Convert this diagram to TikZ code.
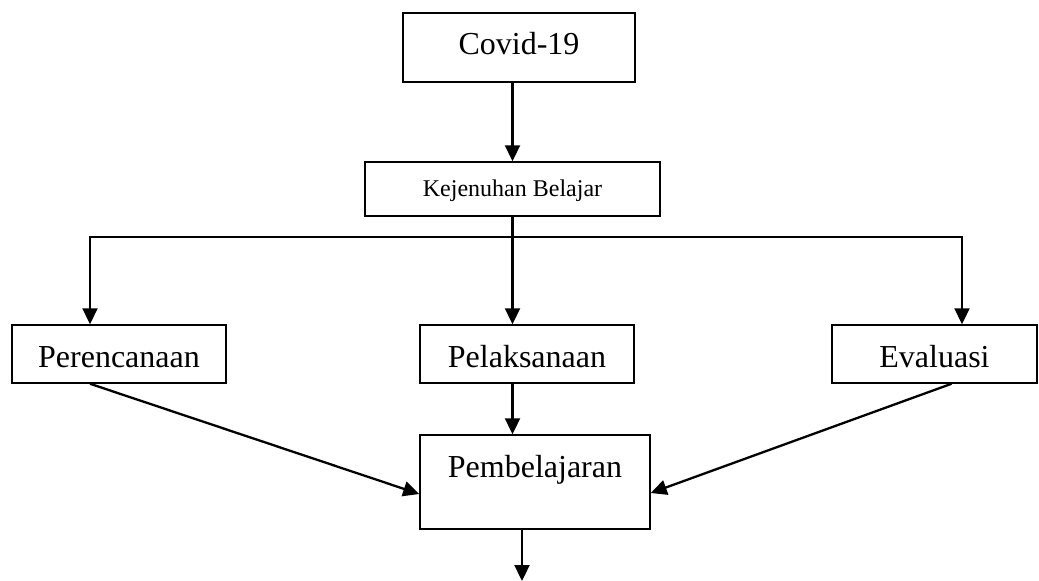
\documentclass[tikz,border=0pt]{standalone}
\usepackage{fontspec}
\setmainfont{Liberation Serif}
\usetikzlibrary{arrows.meta}

\tikzset{
  box/.style={draw, line width=1.5pt, inner sep=0pt, font=\fontsize{32}{36}\selectfont},
  conn/.style={line width=2.3pt, -{Triangle[length=16pt,width=15pt]}},
}

\begin{document}
\begin{tikzpicture}[x=1pt,y=-1pt]
\useasboundingbox (0,0) rectangle (1039,581);
\node[box, minimum width=232pt, text height=41pt, text depth=28pt] (covid) at (519,47.5) {Covid-19};
\node[box, minimum width=295pt, text height=34pt, text depth=20pt, font=\fontsize{24}{28}\selectfont] (jenuh) at (512.5,189) {Kejenuhan Belajar};
\node[box, minimum width=214pt, text height=42pt, text depth=16pt] (rencana) at (119,354) {Perencanaan};
\node[box, minimum width=214pt, text height=42pt, text depth=16pt] (laksana) at (527,354) {Pelaksanaan};
\node[box, minimum width=205pt, text height=42pt, text depth=16pt] (evaluasi) at (934.5,354) {Evaluasi};
\node[box, minimum width=230pt, text height=42pt, text depth=52pt] (belajar) at (535,482) {Pembelajaran};
\coordinate (lft) at (90,237);
\coordinate (rgt) at (962,237);
\coordinate (out) at (522,581);

\draw[conn] (covid.south -| jenuh.north) -- (jenuh.north);
\draw[conn] (jenuh.south) -- (jenuh.south |- laksana.north);
\draw[conn, {Triangle[length=16pt,width=15pt]}-{Triangle[length=16pt,width=15pt]}, line join=miter] (lft |- rencana.north) -- (lft) -- (rgt) -- (rgt |- evaluasi.north);
\draw[conn] (jenuh.south |- laksana.south) -- (jenuh.south |- belajar.north);
\draw[conn] ([xshift=-29pt]rencana.south) -- ([yshift=-12pt]belajar.west);
\draw[conn] ([xshift=17pt]evaluasi.south) -- ([yshift=-11pt]belajar.east);
\draw[conn] (belajar.south -| out) -- (out);
\end{tikzpicture}
\end{document}
